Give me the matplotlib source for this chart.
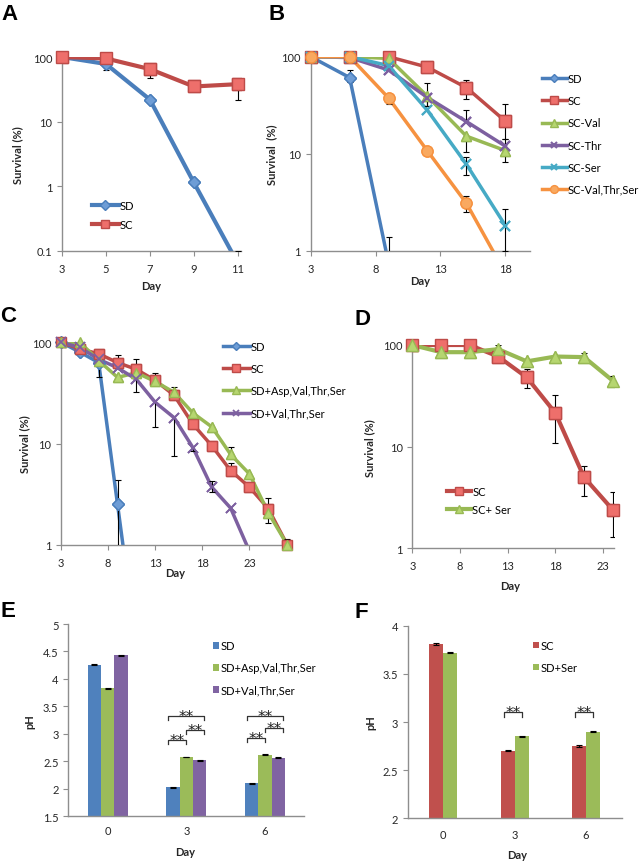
import numpy as np
import matplotlib
matplotlib.use('Agg')
import matplotlib.pyplot as plt
from matplotlib.ticker import NullLocator
import matplotlib.transforms as mtransforms

plt.rcParams['font.family'] = ['Lato', 'DejaVu Sans']

W, H = 641, 862
fig = plt.figure(figsize=(W / 100, H / 100), dpi=100)

# ------------------------------------------------------------------ data
# Panel A
a_days = [3, 5, 7, 9, 11]
a_sd = [100, 78, 22, 1.15, 0.065]
a_sd_lo = [0, 15, 0, 0, 0]
a_sd_hi = [0, 0, 0, 0, 0.035]
a_sc = [100, 95, 65, 35, 38]
a_sc_lo = [0, 0, 18, 0, 16]
a_sc_hi = [0, 0, 0, 0, 0]
a_yticks = [0.1, 1, 10, 100]
a_ytick_labels = ['0.1', '1', '10', '100']
a_xticks = [3, 5, 7, 9, 11]

# Panel B
b_days = [3, 6, 9, 12, 15, 18]
b_sd_days = [3, 6, 9]
b_sd = [100, 61, 0.75]
b_sd_lo = [0, 6, 0]
b_sd_hi = [0, 12, 0.65]
b_sc = [100, 100, 100, 78, 48, 21.7]
b_sc_lo = [0, 0, 0, 0, 11, 7.4]
b_sc_hi = [0, 0, 0, 0, 10, 11]
b_val = [100, 100, 96, 39, 15.2, 10.8]
b_val_lo = [0, 0, 0, 8, 4.8, 2.6]
b_val_hi = [0, 0, 0, 15, 0, 3.5]
b_thr = [100, 98, 73, 38, 21.5, 12]
b_thr_lo = [0, 0, 0, 7, 0, 0]
b_thr_hi = [0, 0, 0, 0, 7, 0]
b_ser = [100, 100, 81, 28, 7.8, 1.83]
b_ser_lo = [0, 0, 0, 0, 1.8, 0.83]
b_ser_hi = [0, 0, 0, 0, 1.4, 0.85]
b_vts = [100, 100, 37.6, 10.7, 3.1, 0.59]
b_vts_lo = [0, 0, 5, 0, 0.6, 0]
b_vts_hi = [0, 0, 0, 0, 0.6, 0]
b_xticks = [3, 8, 13, 18]
b_yticks = [1, 10, 100]
b_ytick_labels = ['1', '10', '100']

# Panel C
c_days = [3, 5, 7, 9, 11, 13, 15, 17, 19, 21, 23, 25, 27]
c_sd_days = [3, 5, 7, 9, 11]
c_sd = [100, 80, 63, 2.5, 0.1]
c_sd_lo = [0, 0, 18, 1.6, 0]
c_sd_hi = [0, 0, 0, 1.9, 0]
c_sc = [100, 86, 77, 63, 54, 42, 30, 15.5, 9.5, 5.4, 3.7, 2.27, 1.0]
c_sc_lo = [0, 0, 0, 0, 22, 0, 0, 0, 0, 0, 0, 0, 0]
c_sc_hi = [0, 0, 0, 12, 14, 0, 0, 2.5, 0, 1.0, 0, 0.65, 0]
c_asp = [100, 100, 66, 45, 50, 41, 32, 20, 14.6, 7.8, 5.0, 2.07, 1.0]
c_asp_lo = [0, 0, 0, 0, 0, 0, 0, 0, 1.1, 0, 0, 0.42, 0]
c_asp_hi = [0, 0, 0, 0, 0, 9, 4, 0, 0, 1.5, 0, 0, 0.15]
c_vts_days = [3, 5, 7, 9, 11, 13, 15, 17, 19, 21, 23]
c_vts = [100, 89, 68, 56, 43, 25.5, 18, 9.1, 3.7, 2.3, 0.86]
c_vts_lo = [0, 0, 0, 0, 0, 11, 10.5, 0.6, 0.4, 0, 0]
c_vts_hi = [0, 0, 0, 0, 0, 0, 0, 0, 0.6, 0, 0]
c_xticks = [3, 8, 13, 18, 23]

# Panel D
d_days = [3, 6, 9, 12, 15, 18, 21, 24]
d_sc = [100, 100, 100, 77, 48, 21.4, 5.0, 2.4]
d_sc_lo = [0, 0, 0, 0, 10, 10.6, 1.7, 1.11]
d_sc_hi = [0, 0, 0, 0, 10, 10.6, 1.5, 1.15]
d_ser = [100, 85, 85, 91, 69, 77, 76, 44.6]
d_ser_lo = [0, 0, 0, 0, 0, 0, 0, 0]
d_ser_hi = [0, 0, 0, 9, 0, 0, 7, 5.4]
d_xticks = [3, 8, 13, 18, 23]

# Panel E
e_days = ['0', '3', '6']
e_sd = [4.26, 2.03, 2.10]
e_asp = [3.83, 2.58, 2.62]
e_vts = [4.43, 2.52, 2.57]
e_err = [0.006, 0.006, 0.006]
e_yticks = [1.5, 2, 2.5, 3, 3.5, 4, 4.5, 5]
e_ytick_labels = ['1.5', '2', '2.5', '3', '3.5', '4', '4.5', '5']
# significance brackets: (group index, heights for SD-Asp, Asp-VTS, SD-VTS)
e_sig_groups = [1, 2]
e_sig_heights = [[2.88, 3.07, 3.32], [2.92, 3.10, 3.32]]

# Panel F
f_days = ['0', '3', '6']
f_sc = [3.81, 2.70, 2.75]
f_ser = [3.72, 2.85, 2.90]
f_err = [0.006, 0.006, 0.006]
f_yticks = [2, 2.5, 3, 3.5, 4]
f_ytick_labels = ['2', '2.5', '3', '3.5', '4']
f_sig_groups = [1, 2]
f_sig_heights = [3.10, 3.10]

# ------------------------------------------------------------------ style
BLUE, BLUE_F = '#4A7EBB', '#6E9DD6'
RED, RED_F = '#BE4B48', '#EE6F6B'
GREEN, GREEN_F = '#98B954', '#B6D670'
PURPLE = '#7D60A0'
TEAL = '#46AAC5'
ORANGE, ORANGE_F = '#F69240', '#F9A960'
SPINE = '#8E8E8E'
TXT = '#262626'
FS = 8


def make_ax(l, r, t, b):
    ax = fig.add_axes([l / W, 1 - b / H, (r - l) / W, (b - t) / H])
    for s in ('top', 'right'):
        ax.spines[s].set_visible(False)
    for s in ('left', 'bottom'):
        ax.spines[s].set_color(SPINE)
        ax.spines[s].set_linewidth(1.0)
    ax.tick_params(axis='both', colors=SPINE, labelcolor=TXT, labelsize=FS,
                   direction='out', length=3.5, width=0.8)
    ax.tick_params(axis='x', pad=5)
    ax.patch.set_alpha(0)
    return ax


def setup_log(ax, xlim, ylim, xticks, yticks, ylabels):
    ax.set_yscale('log')
    ax.set_xlim(*xlim)
    ax.set_ylim(*ylim)
    ax.set_xticks(xticks)
    ax.set_yticks(yticks)
    ax.set_yticklabels(ylabels)
    ax.yaxis.set_minor_locator(NullLocator())
    ax.xaxis.set_minor_locator(NullLocator())


def labels(ax, xl, yl, xc, yc):
    ax.set_xlabel(xl, fontsize=FS, fontweight='bold', color=TXT)
    ax.set_ylabel(yl, fontsize=FS, fontweight='bold', color=TXT)
    ax.xaxis.set_label_coords(xc[0], xc[1])
    ax.yaxis.set_label_coords(yc, 0.5)


def series(ax, x, y, lo, hi, color, marker, mfc, ms, lw, label, mew=1.0):
    x = np.asarray(x, float)
    y = np.asarray(y, float)
    lo = np.asarray(lo, float)
    hi = np.asarray(hi, float)
    ax.plot(x, y, color=color, lw=lw, marker=marker, ms=ms, mfc=mfc, mec=color,
            mew=mew, label=label, zorder=2, solid_joinstyle='round')
    m = (lo > 0) | (hi > 0)
    if m.any():
        ax.vlines(x[m], (y - lo)[m], (y + hi)[m], colors='black', lw=0.8, zorder=3)
    if (hi > 0).any():
        ax.plot(x[hi > 0], (y + hi)[hi > 0], ls='none', marker='_', ms=5, mew=0.8,
                color='black', zorder=3)
    if (lo > 0).any():
        ax.plot(x[lo > 0], (y - lo)[lo > 0], ls='none', marker='_', ms=5, mew=0.8,
                color='black', zorder=3)
    ylo, yhi = ax.get_ylim()
    xlo, xhi = ax.get_xlim()
    inr = (y >= ylo * 0.999) & (y <= yhi * 1.001) & (x >= xlo) & (x <= xhi + 0.01)
    ax.plot(x[inr], y[inr], ls='none', marker=marker, ms=ms, mfc=mfc, mec=color,
            mew=mew, zorder=4, clip_on=False)


def legend(ax, x_px, rows_px, hl, ls, htp=0.12, **kw):
    yc = (rows_px[0] + rows_px[-1]) / 2
    return ax.legend(loc='center left', bbox_to_anchor=(x_px / W, 1 - yc / H),
                     bbox_transform=fig.transFigure, frameon=False, borderpad=0,
                     borderaxespad=0, handlelength=hl, handletextpad=htp,
                     labelspacing=ls, fontsize=FS, **kw)


def panel_letter(x, y, s):
    fig.text(x / W, 1 - y / H, s, fontsize=16, fontweight='bold',
             family=['Liberation Sans', 'DejaVu Sans'], va='baseline', ha='left')


# ------------------------------------------------------------------ A
axA = make_ax(62, 241, 58, 252)
setup_log(axA, (3, 11.15), (0.1, 100), a_xticks, a_yticks, a_ytick_labels)
series(axA, a_days, a_sd, a_sd_lo, a_sd_hi, BLUE, 'D', BLUE_F, 6.5, 3.0, 'SD')
series(axA, a_days, a_sc, a_sc_lo, a_sc_hi, RED, 's', RED_F, 8.5, 3.0, 'SC')
labels(axA, 'Day', 'Survival (%)', (0.5, -0.152), -0.218)
legend(axA, 92, [205, 227], 2.4, 0.75, markerscale=0.75)
panel_letter(1, 20, 'A')

# ------------------------------------------------------------------ B
axB = make_ax(310.7, 530, 57.7, 252)
setup_log(axB, (3, 19.9), (1, 100), b_xticks, b_yticks, b_ytick_labels)
series(axB, b_sd_days, b_sd, b_sd_lo, b_sd_hi, BLUE, 'D', BLUE_F, 6.0, 2.5, 'SD')
series(axB, b_days, b_sc, b_sc_lo, b_sc_hi, RED, 's', RED_F, 8.0, 2.5, 'SC')
series(axB, b_days, b_val, b_val_lo, b_val_hi, GREEN, '^', GREEN_F, 7.5, 2.5, 'SC-Val')
series(axB, b_days, b_thr, b_thr_lo, b_thr_hi, PURPLE, 'x', PURPLE, 7.0, 2.5, 'SC-Thr', mew=1.5)
series(axB, b_days, b_ser, b_ser_lo, b_ser_hi, TEAL, 'x', TEAL, 7.0, 2.5, 'SC-Ser', mew=1.5)
series(axB, b_days, b_vts, b_vts_lo, b_vts_hi, ORANGE, 'o', ORANGE_F, 8.0, 2.5, 'SC-Val,Thr,Ser')
labels(axB, 'Day', 'Survival  (%)', (0.5, -0.121), -0.154)
legend(axB, 541.7, [72, 97, 123, 148, 173, 198], 2.25, 1.0, markerscale=0.7)
panel_letter(268, 20, 'B')

# ------------------------------------------------------------------ C
axC = make_ax(61, 290, 343.3, 545.7)
setup_log(axC, (3, 27.3), (1, 100), c_xticks, b_yticks, b_ytick_labels)
series(axC, c_sd_days, c_sd, c_sd_lo, c_sd_hi, BLUE, 'D', BLUE_F, 6.0, 2.5, 'SD')
series(axC, c_days, c_sc, c_sc_lo, c_sc_hi, RED, 's', RED_F, 7.5, 2.5, 'SC')
series(axC, c_days, c_asp, c_asp_lo, c_asp_hi, GREEN, '^', GREEN_F, 7.5, 2.5, 'SD+Asp,Val,Thr,Ser')
series(axC, c_vts_days, c_vts, c_vts_lo, c_vts_hi, PURPLE, 'x', PURPLE, 6.5, 2.5, 'SD+Val,Thr,Ser', mew=1.3)
labels(axC, 'Day', 'Survival (%)', (0.498, -0.108), -0.135)
legend(axC, 223, [343.3, 368.3, 393.3, 418.3], 2.4, 1.0, markerscale=0.7)
panel_letter(0, 322, 'C')

# ------------------------------------------------------------------ D
axD = make_ax(412.3, 614.1, 346, 549.3)
setup_log(axD, (3, 24.15), (1, 100), d_xticks, b_yticks, b_ytick_labels)
series(axD, d_days, d_sc, d_sc_lo, d_sc_hi, RED, 's', RED_F, 8.5, 3.0, 'SC')
series(axD, d_days, d_ser, d_ser_lo, d_ser_hi, GREEN, '^', GREEN_F, 8.0, 3.0, 'SC+ Ser')
labels(axD, 'Day', 'Survival (%)', (0.487, -0.155), -0.186)
legend(axD, 446.7, [491, 511.7], 2.2, 0.6, markerscale=0.75)
panel_letter(355, 325, 'D')

# ------------------------------------------------------------------ E
axE = make_ax(68.3, 304.3, 625, 817.3)
xe = np.arange(len(e_days))
bw = 0.17
ek = dict(lw=0.8, capthick=0.8, ecolor='black')
axE.bar(xe - bw, e_sd, bw, color='#4F81BD', yerr=e_err, capsize=2.5, error_kw=ek, label='SD')
axE.bar(xe, e_asp, bw, color='#9BBB59', yerr=e_err, capsize=2.5, error_kw=ek, label='SD+Asp,Val,Thr,Ser')
axE.bar(xe + bw, e_vts, bw, color='#8064A2', yerr=e_err, capsize=2.5, error_kw=ek, label='SD+Val,Thr,Ser')
axE.set_xlim(-0.5, 2.5)
axE.set_ylim(1.5, 5)
axE.set_yticks(e_yticks)
axE.set_yticklabels(e_ytick_labels)
axE.set_xticks(xe)
axE.set_xticklabels(e_days)
axE.tick_params(axis='x', length=0, pad=6)
labels(axE, 'Day', 'pH', (0.494, -0.157), -0.141)
legend(axE, 213.3, [643.3, 668.3, 694.3], 0.55, 1.0, htp=0.15, handleheight=0.55)
panel_letter(1, 617, 'E')

star_off = mtransforms.offset_copy(axE.transData, fig=fig, x=0, y=-3.6, units='points')
drop_e = 0.065
span = 0.23
for g, hts in zip(e_sig_groups, e_sig_heights):
    pairs = [(g - span, g), (g, g + span), (g - span, g + span)]
    for (x0, x1), h in zip(pairs, hts):
        axE.plot([x0, x0, x1, x1], [h - drop_e, h, h, h - drop_e], color='#333333', lw=0.9, zorder=5)
        axE.text((x0 + x1) / 2, h, '**', ha='center', va='baseline', fontsize=11,
                 family='DejaVu Sans', color='#222222', transform=star_off)

# ------------------------------------------------------------------ F
axF = make_ax(407.7, 621.7, 626.7, 819.3)
xf = np.arange(len(f_days))
bwf = 0.196
axF.bar(xf - bwf / 2, f_sc, bwf, color='#C0504D', yerr=f_err, capsize=2.5, error_kw=ek, label='SC')
axF.bar(xf + bwf / 2, f_ser, bwf, color='#9BBB59', yerr=f_err, capsize=2.5, error_kw=ek, label='SD+Ser')
axF.set_xlim(-0.5, 2.5)
axF.set_ylim(2, 4)
axF.set_yticks(f_yticks)
axF.set_yticklabels(f_ytick_labels)
axF.set_xticks(xf)
axF.set_xticklabels(f_days)
axF.tick_params(axis='x', length=0, pad=8)
labels(axF, 'Day', 'pH', (0.509, -0.158), -0.145)
legend(axF, 533.3, [645, 670], 0.55, 1.0, htp=0.15, handleheight=0.55)
panel_letter(355, 618, 'F')

star_off_f = mtransforms.offset_copy(axF.transData, fig=fig, x=0, y=-3.6, units='points')
drop_f = 0.05
for g, h in zip(f_sig_groups, f_sig_heights):
    x0, x1 = g - 0.15, g + 0.1
    axF.plot([x0, x0, x1, x1], [h - drop_f, h, h, h - drop_f], color='#333333', lw=0.9, zorder=5)
    axF.text((x0 + x1) / 2, h, '**', ha='center', va='baseline', fontsize=11,
             family='DejaVu Sans', color='#222222', transform=star_off_f)

fig.savefig('out.png', dpi=100)
